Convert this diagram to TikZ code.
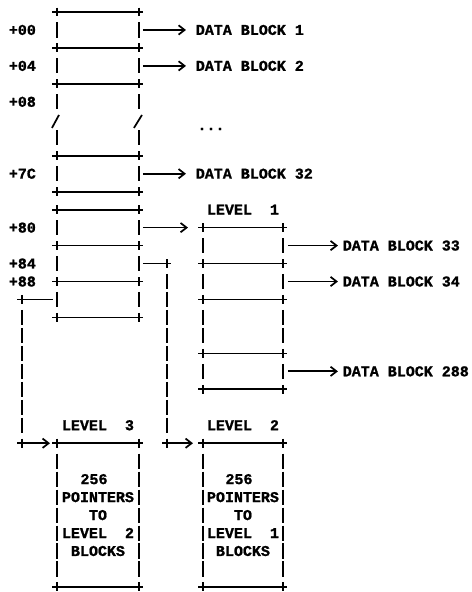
\documentclass[tikz,border=0pt]{standalone}
\usepackage{fontspec}
\setmonofont[BoldFeatures={FakeBold=1.2}]{Liberation Mono}
\usetikzlibrary{arrows.meta}

\tikzset{plus/.pic={\draw (-4.5,0) -- (4.5,0) (0,-0.25) -- (0,0.25);}}
% one ruled line of a block: row, left x, right x
\newcommand\cellline[3]{\draw (#2,#1) -- (#3,#1); \pic at (#2,#1) {plus}; \pic at (#3,#1) {plus};}
% the bars of a block side: x, rows
\newcommand\cellbars[2]{\foreach \k in {#2} \draw (#1,\k-0.42) -- (#1,\k+0.42);}

\begin{document}
\begin{tikzpicture}[x=0.75pt, y=-13.4775pt, line width=1.3pt,
  every node/.style={font=\ttfamily\bfseries\fontsize{11.25}{13.5}\selectfont,
    inner sep=0pt, text height=7.4pt, text depth=0pt},
  ptr/.style={-{Straight Barb[length=4.5pt,width=7pt]}, shorten >=#1},
  ptr/.default=0pt]
\useasboundingbox (0,-0.668) rectangle (472,32.28);

% inode address block
\foreach \r in {0,2,4,8,10,11,13,15,17} {\cellline{\r}{57}{139}}
\cellbars{57}{1,3,5,7,9,12,14,16}
\cellbars{139}{1,3,5,7,9,12,14,16}
\draw (52,6.45) -- (59,5.73) (134,6.45) -- (142,5.73);

\node[anchor=west] (o00) at (8,1) {+00};
\node[anchor=west] (o04) at (8,3) {+04};
\node[anchor=west] (o08) at (8,5) {+08};
\node[anchor=west] (o7c) at (8,9) {+7C};
\node[anchor=west] (o80) at (8,12) {+80};
\node[anchor=west] (o84) at (8,14) {+84};
\node[anchor=west] (o88) at (8,15) {+88};

% direct blocks
\node[anchor=west] (d1) at (195,1) {DATA BLOCK 1};
\node[anchor=west] (d2) at (195,3) {DATA BLOCK 2};
\node (dots) at (211,6.3) {...};
\node[anchor=west] (d32) at (195,9) {DATA BLOCK 32};
\coordinate (p00) at (143,1);
\coordinate (p04) at (143,3);
\coordinate (p7c) at (143,9);
\draw[ptr=6.75pt] (p00) -- (d1.west);
\draw[ptr=6.75pt] (p04) -- (d2.west);
\draw[ptr=6.75pt] (p7c) -- (d32.west);

% level 1
\node (lv1) at (243,11) {LEVEL~~1};
\foreach \r in {12,14,16,19,21} {\cellline{\r}{203}{283}}
\cellbars{203}{13,15,17,18,20}
\cellbars{283}{13,15,17,18,20}
\coordinate (p80) at (143,12);
\coordinate (l1top) at (203,12);
\draw[ptr=11.25pt] (p80) -- (l1top);
\node[anchor=west] (d33) at (342,13) {DATA BLOCK 33};
\node[anchor=west] (d34) at (342,15) {DATA BLOCK 34};
\node[anchor=west] (d288) at (342,20) {DATA BLOCK 288};
\coordinate (q33) at (288,13);
\coordinate (q34) at (288,15);
\coordinate (q288) at (288,20);
\draw[ptr=3pt] (q33) -- (d33.west);
\draw[ptr=3pt] (q34) -- (d34.west);
\draw[ptr=3pt] (q288) -- (d288.west);

% +84 down to level 2
\coordinate (p84) at (143,14);
\coordinate (j84) at (167,14);
\coordinate (j24) at (167,24);
\coordinate (l2top) at (203,24);
\draw (p84) -- (j84); \pic at (j84) {plus};
\cellbars{167}{15,...,23}
\pic at (j24) {plus};
\draw[ptr=7.5pt] (j24) -- (l2top);

% +88 down to level 3
\coordinate (p88) at (22,16);
\coordinate (m88) at (57,16);
\coordinate (q24) at (22,24);
\coordinate (l3top) at (57,24);
\pic at (p88) {plus};
\draw[shorten >=3pt] (p88) -- (m88);
\cellbars{22}{17,...,23}
\pic at (q24) {plus};
\draw[ptr=5.25pt] (q24) -- (l3top);

% level 3
\node (lv3) at (98,23) {LEVEL~~3};
\cellline{24}{57}{139} \cellline{32}{57}{139}
\cellbars{57}{25,...,31}
\cellbars{139}{25,...,31}
\node (n3a) at (94,26) {256};
\node (n3b) at (98,27) {POINTERS};
\node (n3c) at (98,28) {TO};
\node (n3d) at (98,29) {LEVEL~~2};
\node (n3e) at (98,30) {BLOCKS};

% level 2
\node (lv2) at (243,23) {LEVEL~~2};
\cellline{24}{203}{283} \cellline{32}{203}{283}
\cellbars{203}{25,...,31}
\cellbars{283}{25,...,31}
\node (n2a) at (239,26) {256};
\node (n2b) at (243,27) {POINTERS};
\node (n2c) at (243,28) {TO};
\node (n2d) at (243,29) {LEVEL~~1};
\node (n2e) at (243,30) {BLOCKS};
\end{tikzpicture}
\end{document}
